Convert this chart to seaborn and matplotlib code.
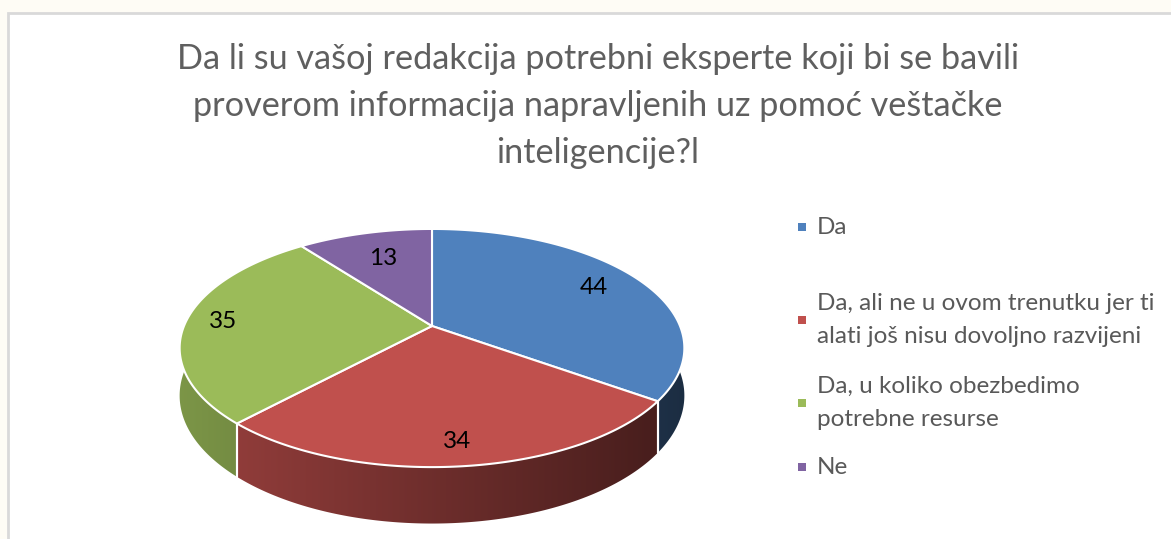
import numpy as np
import matplotlib
matplotlib.use('Agg')
import matplotlib.pyplot as plt
from matplotlib.patches import Polygon, Rectangle
import seaborn as sns

# data
labels = ['Da',
          'Da, ali ne u ovom trenutku jer ti\nalati još nisu dovoljno razvijeni',
          'Da, u koliko obezbedimo\npotrebne resurse',
          'Ne']
values = [44, 34, 35, 13]
colors = ['#4F81BD', '#C0504D', '#9BBB59', '#8064A2']
title = ('Da li su vašoj redakcija potrebni eksperte koji bi se bavili\n'
         'proverom informacija napravljenih uz pomoć veštačke\n'
         'inteligencije?l')

sns.set_theme(style='white')
plt.rcParams['font.family'] = ['Lato', 'DejaVu Sans']

# 3d pie geometry (pixels), simple perspective
cx, cy = 432, 326
A, B, p, D = 248, 115, 0.185, 46
label_r = [0.78, 0.85, 0.85, 0.7]


def proj(theta, r=1.0, drop=0.0):
    u = r * np.cos(theta)
    v = -r * np.sin(theta)
    s = 1.0 / (1 - p * v)
    return cx + A * u * s, cy + B * v * s + drop * s


fig = plt.figure(figsize=(11.71, 5.39), dpi=100, facecolor='#FEFCF5')
ax = fig.add_axes([0, 0, 1, 1])
ax.set_xlim(0, 1171)
ax.set_ylim(539, 0)
ax.axis('off')

ax.add_patch(Rectangle((8, 13), 1200, 600, facecolor='white',
                       edgecolor='#D9D9D9', lw=2, zorder=0))

total = float(sum(values))
cum = np.concatenate([[0], np.cumsum(values)])
starts = np.deg2rad(90 - 360 * cum[:-1] / total)
ends = np.deg2rad(90 - 360 * cum[1:] / total)

# horizontal lighting gradient for the side walls
x_left, x_right = cx - A * 1.02, cx + A * 1.02
grad = np.linspace(0, 1, 256)
fac = 0.8 - 0.45 * grad

# side walls (front half only)
for i in range(len(values)):
    for off in (0, -2 * np.pi):
        a0 = min(starts[i] + off, 0)
        a1 = max(ends[i] + off, -np.pi)
        if a0 <= a1:
            continue
        ts = np.linspace(a0, a1, 200)
        top = [proj(t) for t in ts]
        bot = [proj(t, drop=D) for t in ts[::-1]]
        side = Polygon(top + bot, closed=True, facecolor='none',
                       edgecolor='none', zorder=2)
        ax.add_patch(side)
        rgb = np.array(matplotlib.colors.to_rgb(colors[i]))
        img = (fac[None, :, None] * rgb[None, None, :]).repeat(2, axis=0)
        im = ax.imshow(img, extent=(x_left, x_right, 540, 150),
                       aspect='auto', interpolation='bilinear', zorder=2)
        im.set_clip_path(side)
        # white seams on the side at slice edges
        for t in (a0, a1):
            if -np.pi < t < 0:
                xa, ya = proj(t)
                xb, yb = proj(t, drop=D)
                ax.plot([xa, xb], [ya, yb], color='white', lw=1.5, zorder=3)

ax.set_xlim(0, 1171)
ax.set_ylim(539, 0)

# top faces
for i in range(len(values)):
    ts = np.linspace(starts[i], ends[i], 200)
    pts = [(cx, cy)] + [proj(t) for t in ts]
    ax.add_patch(Polygon(pts, closed=True, facecolor=colors[i],
                         edgecolor='white', lw=1.5, joinstyle='round',
                         zorder=4))
    mid = (starts[i] + ends[i]) / 2
    lx, ly = proj(mid, r=label_r[i])
    ax.text(lx, ly, str(values[i]), fontsize=17.5, color='black',
            ha='center', va='center', zorder=5)

# title
ax.text(598, 106, title, fontsize=24.7, color='#5f5f5f',
        ha='center', va='center', linespacing=1.58, zorder=5)

# legend
leg_y = [227, 320, 403, 467]
for i in range(len(labels)):
    ax.add_patch(Rectangle((798, leg_y[i] - 4), 8, 8, facecolor=colors[i],
                           edgecolor='none', zorder=5))
    ax.text(817, leg_y[i], labels[i], fontsize=17.5, color='#595959',
            ha='left', va='center', linespacing=1.75, zorder=5)

fig.savefig('out.png', dpi=100, facecolor=fig.get_facecolor())
